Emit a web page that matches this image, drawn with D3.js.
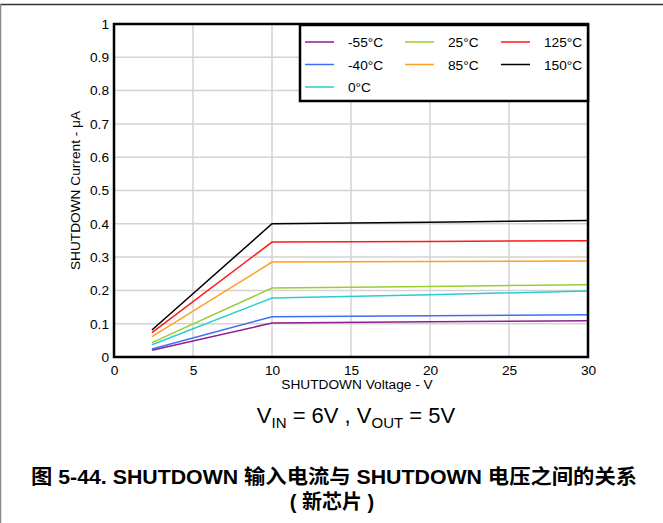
<!DOCTYPE html>
<html><head><meta charset="utf-8">
<script src="https://cdn.jsdelivr.net/npm/d3@7"></script>
<style>body{margin:0;background:#fff;} svg{display:block;}</style>
</head><body>
<script>
const voltages = [2.4, 10, 20, 30];
const seriesNames = ["-55°C", "-40°C", "0°C", "25°C", "85°C", "125°C", "150°C"];
const seriesColors = ["#8e1f8e", "#3f6ff5", "#27cdd4", "#9acd32", "#ffa020", "#ff1a1a", "#000000"];
const m55 = [0.020, 0.102, 0.106, 0.109];
const m40 = [0.024, 0.121, 0.124, 0.127];
const c0 = [0.037, 0.177, 0.187, 0.198];
const c25 = [0.043, 0.207, 0.212, 0.217];
const c85 = [0.061, 0.285, 0.287, 0.288];
const c125 = [0.073, 0.345, 0.347, 0.349];
const c150 = [0.081, 0.400, 0.405, 0.410];
const seriesValues = [m55, m40, c0, c25, c85, c125, c150];
const xTicks = [0, 5, 10, 15, 20, 25, 30];
const yTicks = [0, 0.1, 0.2, 0.3, 0.4, 0.5, 0.6, 0.7, 0.8, 0.9, 1];

const W = 663, H = 523;
const svg = d3.select("body").append("svg").attr("width", W).attr("height", H);
const font = "'Liberation Sans', Arial, sans-serif";
const fs = 13.7;

// frame
svg.append("line").attr("x1", 0).attr("x2", W).attr("y1", 4.5).attr("y2", 4.5).attr("stroke", "#333").attr("stroke-width", 1.5);
svg.append("line").attr("x1", 0.5).attr("x2", 0.5).attr("y1", 4).attr("y2", H).attr("stroke", "#888").attr("stroke-width", 1.5);

const L = 114, R = 588, T = 24, B = 357;
const x = d3.scaleLinear().domain([0, 30]).range([L, R]);
const y = d3.scaleLinear().domain([0, 1]).range([B, T]);

// grid
const g = svg.append("g");
g.selectAll(".gx").data(xTicks).enter().append("line")
  .attr("x1", d => x(d)).attr("x2", d => x(d)).attr("y1", T).attr("y2", B)
  .attr("stroke", "#d3d3d3").attr("stroke-width", 1.5);
g.selectAll(".gy").data(yTicks).enter().append("line")
  .attr("x1", L).attr("x2", R).attr("y1", d => y(d)).attr("y2", d => y(d))
  .attr("stroke", "#d3d3d3").attr("stroke-width", 1.5);

// axes labels
const xAxis = d3.axisBottom(x).tickValues(xTicks).tickSize(0).tickPadding(8).tickFormat(d3.format("d"));
const yAxis = d3.axisLeft(y).tickValues(yTicks).tickSize(0).tickPadding(5).tickFormat(d => d === 0 || d === 1 ? d3.format("d")(d) : d3.format(".1f")(d));
const gx = svg.append("g").attr("transform", `translate(0,${B})`).call(xAxis);
const gy = svg.append("g").attr("transform", `translate(${L},0)`).call(yAxis);
[gx, gy].forEach(a => {
  a.select(".domain").remove();
  a.selectAll("text").attr("font-family", font).attr("font-size", fs).attr("fill", "#000");
});

// lines
const line = d3.line().x((d, i) => x(voltages[i])).y(d => y(d));
svg.append("g").selectAll("path").data(seriesValues).enter().append("path")
  .attr("d", d => line(d)).attr("fill", "none")
  .attr("stroke", (d, i) => seriesColors[i]).attr("stroke-width", 1.5);

// plot border
svg.append("rect").attr("x", L).attr("y", T).attr("width", R - L).attr("height", B - T)
  .attr("fill", "none").attr("stroke", "#000").attr("stroke-width", 2.5);

// axis titles
svg.append("text").attr("x", 357).attr("y", 389).attr("text-anchor", "middle")
  .attr("font-family", font).attr("font-size", fs).text("SHUTDOWN Voltage - V");
svg.append("text").attr("transform", `translate(80,${(T + B) / 2}) rotate(-90)`).attr("text-anchor", "middle")
  .attr("font-family", font).attr("font-size", fs).text("SHUTDOWN Current - μA");

// legend
const lg = svg.append("g");
lg.append("rect").attr("x", 300).attr("y", 25).attr("width", 288).attr("height", 76)
  .attr("fill", "#fff").attr("stroke", "#000").attr("stroke-width", 2.5);
const colX = [305, 405, 501];
seriesNames.forEach((n, i) => {
  const col = i < 3 ? 0 : (i < 5 ? 1 : 2);
  const row = i < 3 ? i : (i < 5 ? i - 3 : i - 5);
  const lx = colX[col], ly = 42 + row * 22.5;
  lg.append("line").attr("x1", lx).attr("x2", lx + 29).attr("y1", ly).attr("y2", ly)
    .attr("stroke", seriesColors[i]).attr("stroke-width", 1.5);
  lg.append("text").attr("x", lx + 43).attr("y", ly + 5).attr("font-family", font).attr("font-size", fs).text(n);
});

// subtitle
const st = svg.append("text").attr("x", 356).attr("y", 423).attr("text-anchor", "middle")
  .attr("font-family", font).attr("font-size", 22);
st.append("tspan").text("V");
st.append("tspan").attr("font-size", 15).attr("dy", 5).text("IN");
st.append("tspan").attr("dy", -5).text(" = 6V , V");
st.append("tspan").attr("font-size", 15).attr("dy", 5).text("OUT");
st.append("tspan").attr("dy", -5).text(" = 5V");

// caption
const cf = "'Liberation Sans', Arial, 'Noto Sans CJK SC', sans-serif";
svg.append("text").attr("x", 334).attr("y", 484).attr("text-anchor", "middle")
  .attr("font-family", cf).attr("font-size", 20).attr("font-weight", "bold")
  .attr("textLength", 606).attr("lengthAdjust", "spacingAndGlyphs")
  .text("图 5-44. SHUTDOWN 输入电流与 SHUTDOWN 电压之间的关系");
svg.append("text").attr("x", 332).attr("y", 509).attr("text-anchor", "middle")
  .attr("font-family", cf).attr("font-size", 20).attr("font-weight", "bold")
  .text("( 新芯片 )");
</script>
</body></html>
